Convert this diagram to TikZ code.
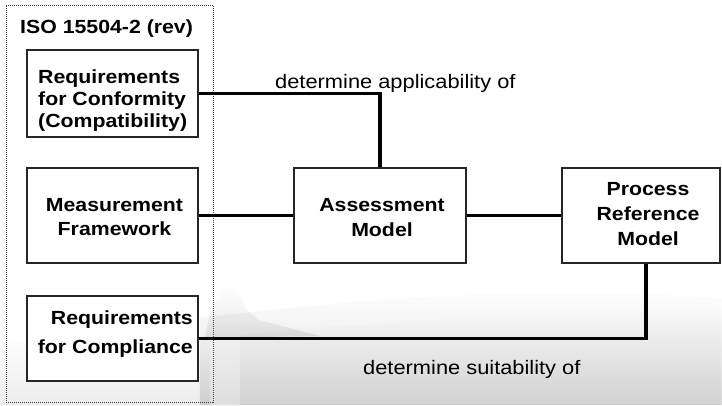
\documentclass[tikz,border=0pt]{standalone}
\usepackage{fontspec}
\setmainfont{Liberation Sans}[FakeStretch=1.12]
\usetikzlibrary{fadings}
\begin{document}
\begin{tikzpicture}[x=1pt,y=-1pt,
  box/.style={draw=black!85, line width=1.5pt, fill=white, rectangle, inner sep=0pt},
  btext/.style={font=\bfseries\fontsize{19}{#1}\selectfont, inner sep=0pt},
  plain/.style={font=\fontsize{19.5}{22}\selectfont, inner sep=0pt, anchor=base west},
  conn/.style={line width=3.5pt, black},
  frame/.style={draw=black!75, line width=0.8pt, dash pattern=on 1pt off 1pt, inner sep=0pt}
]
\useasboundingbox (0,0) rectangle (722,405);

% faint landscape haze in the lower part
\fill[black, opacity=0.13, path fading=north]
  (200,405) -- (200,318) .. controls (350,300) and (520,285) .. (722,298) -- (722,405) -- cycle;
\fill[black, opacity=0.06, path fading=north]
  (240,405) -- (240,335) .. controls (400,320) and (560,310) .. (722,318) -- (722,405) -- cycle;
\fill[black, opacity=0.07, path fading=north]
  (0,405) -- (0,345) .. controls (60,335) and (150,330) .. (210,335) -- (210,405) -- cycle;
% rock towers on the horizon
\fill[black, opacity=0.09, path fading=north]
  (205,338) -- (212,302) -- (219,297) -- (221,288) -- (227,284) -- (232,285)
  -- (235,294) -- (241,297) -- (246,309) -- (258,320) -- (290,328) -- (320,336) -- cycle;

% dotted frame of the standard
\node[frame, minimum width=207pt, minimum height=397pt] (iso) at (109.5,203.5) {};
\node[font=\bfseries\fontsize{19}{22}\selectfont, inner sep=0pt, anchor=base west] (isoT) at (20,33) {ISO 15504-2 (rev)};

% boxes
\node[box, minimum width=171pt, minimum height=87pt] (rc)  at (112.5,93.5)  {};
\node[box, minimum width=171pt, minimum height=95pt] (mf)  at (112.5,215.5) {};
\node[box, minimum width=171pt, minimum height=85pt] (rfc) at (112.5,338.5) {};
\node[box, minimum width=172pt, minimum height=95pt] (am)  at (380,215.5)   {};
\node[box, minimum width=158pt, minimum height=95pt] (prm) at (641,215.5)   {};

% connectors
\draw[conn] (rc.east) -| (am.north);
\draw[conn] (mf.east) -- (am.west);
\draw[conn] (am.east) -- (prm.west);
\draw[conn] (rfc.east) -| ([xshift=5pt]prm.south);

% redraw box outlines over the connector ends
\node[box, minimum width=171pt, minimum height=87pt] at (rc)  {};
\node[box, minimum width=171pt, minimum height=95pt] at (mf)  {};
\node[box, minimum width=171pt, minimum height=85pt] at (rfc) {};
\node[box, minimum width=172pt, minimum height=95pt] at (am)  {};
\node[box, minimum width=158pt, minimum height=95pt] at (prm) {};

% box texts
\node[btext=21.6, align=left, anchor=west] (rcT) at (38,100.5)
  {Requirements\\for Conformity\\(Compatibility)};
\node[btext=24, align=center] (mfT) at (114.5,217.2) {Measurement\\Framework};
\node[btext=29, align=right, anchor=east] (rfcT) at (193,333.7) {Requirements\\for Compliance};
\node[btext=25, align=center] (amT) at (382,217.7) {Assessment\\Model};
\node[btext=25, align=center] (prmT) at (648,213.8) {Process\\Reference\\Model};

% connector labels
\node[plain] (lapp) at (275,88)  {determine applicability of};
\node[plain] (lsui) at (363,374) {determine suitability of};
\end{tikzpicture}
\end{document}
